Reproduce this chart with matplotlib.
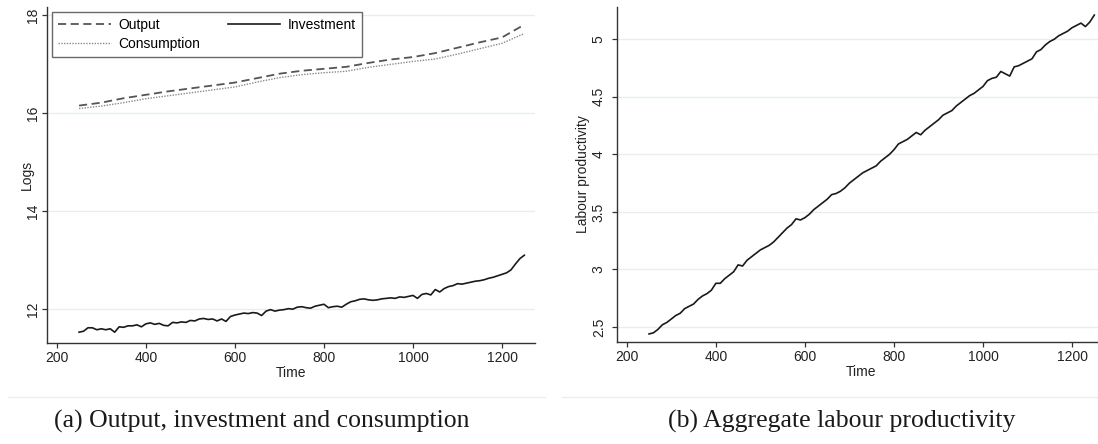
import numpy as np
import matplotlib
matplotlib.use("Agg")
import matplotlib.pyplot as plt
from matplotlib.lines import Line2D

# ---------------- data ----------------
t_smooth = [250, 300, 350, 400, 450, 500, 550, 600, 650, 700, 750,
            800, 850, 900, 950, 1000, 1050, 1100, 1150, 1200, 1250]
output = [16.15, 16.21, 16.30, 16.37, 16.44, 16.50, 16.56, 16.62, 16.71, 16.80, 16.86,
          16.90, 16.94, 17.02, 17.09, 17.14, 17.22, 17.33, 17.44, 17.54, 17.80]
consumption = [16.09, 16.14, 16.21, 16.29, 16.35, 16.41, 16.47, 16.53, 16.63, 16.72, 16.78,
               16.82, 16.85, 16.93, 16.99, 17.05, 17.10, 17.20, 17.31, 17.42, 17.62]

t_fine = list(range(250, 1251, 10))
investment = [
    11.53, 11.55, 11.62, 11.62, 11.58, 11.60, 11.58, 11.60, 11.53, 11.64,
    11.63, 11.66, 11.66, 11.68, 11.64, 11.70, 11.72, 11.69, 11.71, 11.67,
    11.66, 11.73, 11.72, 11.74, 11.73, 11.77, 11.76, 11.80, 11.81, 11.79,
    11.80, 11.76, 11.80, 11.75, 11.85, 11.88, 11.90, 11.92, 11.91, 11.93,
    11.92, 11.87, 11.96, 11.99, 11.96, 11.98, 11.99, 12.01, 12.00, 12.04,
    12.05, 12.03, 12.02, 12.06, 12.08, 12.10, 12.03, 12.05, 12.06, 12.04,
    12.10, 12.15, 12.17, 12.20, 12.21, 12.19, 12.18, 12.19, 12.21, 12.22,
    12.23, 12.22, 12.25, 12.24, 12.26, 12.28, 12.22, 12.30, 12.32, 12.29,
    12.40, 12.35, 12.42, 12.46, 12.48, 12.52, 12.51, 12.53, 12.55, 12.57,
    12.58, 12.60, 12.63, 12.65, 12.68, 12.71, 12.74, 12.80, 12.92, 13.03,
    13.10]
productivity = [
    2.44, 2.45, 2.48, 2.52, 2.54, 2.57, 2.60, 2.62, 2.66, 2.68,
    2.70, 2.74, 2.77, 2.79, 2.82, 2.88, 2.88, 2.92, 2.95, 2.98,
    3.04, 3.03, 3.08, 3.11, 3.14, 3.17, 3.19, 3.21, 3.24, 3.28,
    3.32, 3.36, 3.39, 3.44, 3.43, 3.45, 3.48, 3.52, 3.55, 3.58,
    3.61, 3.65, 3.66, 3.68, 3.71, 3.75, 3.78, 3.81, 3.84, 3.86,
    3.88, 3.90, 3.94, 3.97, 4.00, 4.04, 4.09, 4.11, 4.13, 4.16,
    4.19, 4.17, 4.21, 4.24, 4.27, 4.30, 4.34, 4.36, 4.38, 4.42,
    4.45, 4.48, 4.51, 4.53, 4.56, 4.59, 4.64, 4.66, 4.67, 4.72,
    4.70, 4.68, 4.76, 4.77, 4.79, 4.81, 4.83, 4.89, 4.91, 4.95,
    4.98, 5.00, 5.03, 5.05, 5.07, 5.10, 5.12, 5.14, 5.11, 5.15,
    5.21]

xticks = [200, 400, 600, 800, 1000, 1200]
left_yticks = [12, 14, 16, 18]
right_yticks = [2.5, 3, 3.5, 4, 4.5, 5]
right_yticklabels = ["2.5", "3", "3.5", "4", "4.5", "5"]
captions = ["(a) Output, investment and consumption", "(b) Aggregate labour productivity"]

# ---------------- style ----------------
plt.rcParams['font.family'] = ['Liberation Sans', 'DejaVu Sans']
W, H = 1098, 444
fig = plt.figure(figsize=(W / 100, H / 100), dpi=100)
grid_c = '#e6eef0'
spine_c = '#333333'


def px_axes(x0, y0, x1, y1):
    return fig.add_axes([x0 / W, 1 - y1 / H, (x1 - x0) / W, (y1 - y0) / H])


def style(ax, ypad):
    for s in ['top', 'right']:
        ax.spines[s].set_visible(False)
    for s in ['left', 'bottom']:
        ax.spines[s].set_color(spine_c)
        ax.spines[s].set_linewidth(1.0)
    ax.tick_params(direction='out', length=3.8, width=0.9, color=spine_c,
                   labelsize=10, labelcolor='#222222', pad=2)
    ax.tick_params(axis='y', labelrotation=90, pad=ypad)
    for lab in ax.get_yticklabels():
        lab.set_va('center')
    ax.grid(axis='y', color=grid_c, lw=1.0)
    ax.set_axisbelow(True)
    ax.set_xticks(xticks)
    ax.set_xlim(178, 1274)
    ax.set_xlabel('Time', fontsize=10, labelpad=1, color='#222222')


# left panel
ax1 = px_axes(47, 7, 535, 343)
ax1.plot(t_smooth, output, color='#555555', lw=1.3, ls=(0, (4.5, 2.5)), label='Output')
ax1.plot(t_smooth, consumption, color='#8a8a8a', lw=1.0, ls=(0, (1, 1)), label='Consumption')
ax1.plot(t_fine, investment, color='#1a1a1a', lw=1.2, label='Investment')
ax1.set_ylim(11.31, 18.16)
ax1.set_yticks(left_yticks)
ax1.set_ylabel('Logs', fontsize=10, labelpad=-6, color='#222222')
style(ax1, 1.5)
leg = ax1.legend(ncol=2, loc='upper left', bbox_to_anchor=(5 / 488, 1 - 5 / 336),
                 borderaxespad=0, fontsize=10, frameon=True, fancybox=False,
                 edgecolor='#444444', handlelength=3.8, columnspacing=2.0,
                 borderpad=0.45, labelspacing=0.35, handletextpad=0.5)
leg.get_frame().set_linewidth(1.0)

# right panel
ax2 = px_axes(617, 7, 1105, 342)
ax2.plot(t_fine, productivity, color='#1a1a1a', lw=1.2)
ax2.set_ylim(2.37, 5.28)
ax2.set_yticks(right_yticks)
ax2.set_yticklabels(right_yticklabels)
ax2.set_ylabel('Labour productivity', fontsize=10, labelpad=1, color='#222222')
style(ax2, 4.3)

# separators and captions
fig.add_artist(Line2D([8 / W, 545 / W], [1 - 397 / H] * 2, color='#eeeeee', lw=1))
fig.add_artist(Line2D([562 / W, 1098 / W], [1 - 397 / H] * 2, color='#eeeeee', lw=1))
fig.text(262 / W, 1 - 421 / H, captions[0], family='Liberation Serif', fontsize=18.5,
         ha='center', va='center', color='#1a1a1a')
fig.text(842 / W, 1 - 421 / H, captions[1], family='Liberation Serif', fontsize=18.5,
         ha='center', va='center', color='#1a1a1a')

fig.savefig('out.png', dpi=100, facecolor='white')
